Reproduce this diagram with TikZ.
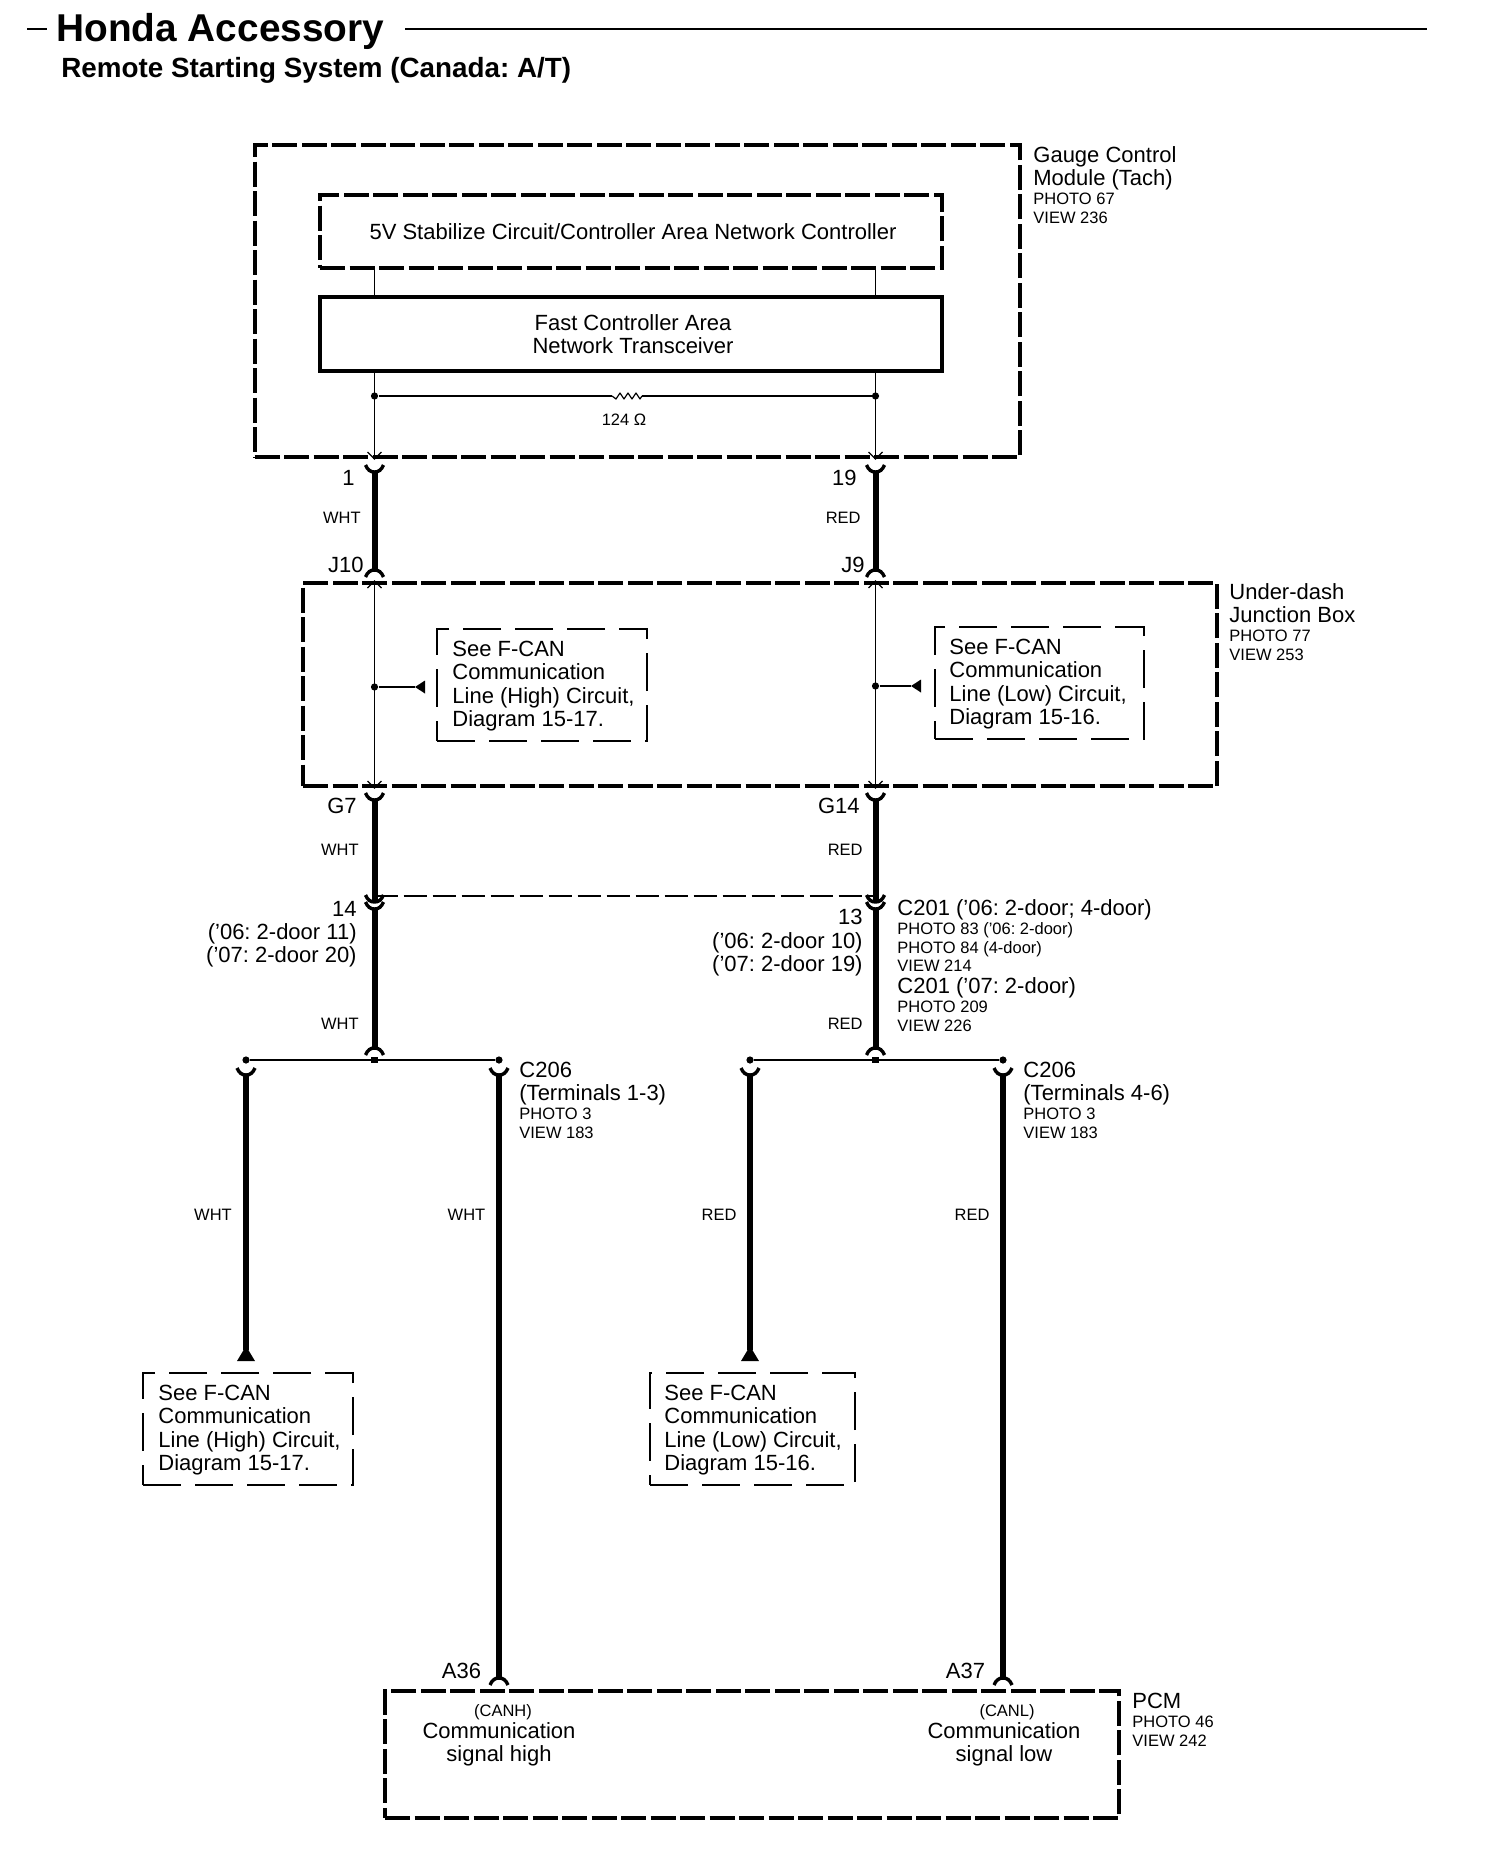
\documentclass[tikz,border=0pt]{standalone}
\usepackage{fontspec}
\setmainfont{Liberation Sans}
\usetikzlibrary{calc}
\newcommand\FBig{\fontsize{11}{11.75}\selectfont}
\newcommand\FSee{\fontsize{11}{11.65}\selectfont}
\newcommand\FSm{\fontsize{8.25}{9.5}\selectfont}
% wire-end marks
\newcommand\YFork[1]{\draw[markline] (#1) ++(-9,-7) .. controls +(2,5) and +(-4,0) .. ++(9,7) .. controls +(4,0) and +(-2,5) .. ++(9,-7);}
\newcommand\NCap[1]{\draw[markline] (#1) ++(-9,7) .. controls +(2,-5) and +(-4,0) .. ++(9,-7) .. controls +(4,0) and +(-2,-5) .. ++(9,7);}
\newcommand\VTip[1]{\draw[thinwire] (#1) ++(-7,-7) -- ++(7,7) -- ++(7,-7);}
\newcommand\ATip[1]{\draw[thinwire] (#1) ++(-7,7) -- ++(7,-7) -- ++(7,7);}
\tikzset{
  x=0.5pt,y=-0.5pt,
  bigbox/.style={draw,line width=2pt,dash pattern=on 12.5pt off 2.25pt,inner sep=0pt},
  midbox/.style={draw,line width=1.75pt,dash pattern=on 12.5pt off 2.25pt,inner sep=0pt},
  solidbox/.style={draw,line width=1.75pt,inner sep=0pt,align=center,font=\FBig},
  seebox/.style={draw,line width=.85pt,dash pattern=on 19pt off 7pt,inner sep=0pt},
  seetext/.style={anchor=west,align=left,inner sep=0pt,font=\FSee},
  lab/.style={anchor=west,inner sep=0pt,font=\FBig,text height=8pt,text depth=0pt},
  labr/.style={lab,anchor=east},
  labc/.style={lab,anchor=center},
  sm/.style={anchor=west,inner sep=0pt,font=\FSm,text height=6pt,text depth=0pt},
  smr/.style={sm,anchor=east},
  smc/.style={sm,anchor=center},
  thinwire/.style={line width=.55pt},
  wire/.style={line width=.6pt},
  thick wire/.style={line width=3pt},
  markline/.style={line width=1.7pt},
  dashwire/.style={line width=1pt,dash pattern=on 11.5pt off 3pt},
  dotn/.style={circle,fill,inner sep=0pt,minimum size=3.6pt},
  sqn/.style={rectangle,fill,inner sep=0pt,minimum size=3.4pt},
}
\begin{document}
\frenchspacing
\begin{tikzpicture}
\useasboundingbox (0,0) rectangle (1504,1852);
% title
\node[anchor=west,inner sep=0pt,font=\bfseries\fontsize{19.4}{22}\selectfont] (title) at (56,31) {Honda Accessory};
\node[anchor=west,inner sep=0pt,font=\bfseries\fontsize{13.9}{16}\selectfont] (sub) at (61,70) {Remote Starting System (Canada: A/T)};
\coordinate (tdl) at (27,29); \coordinate (tdr) at (47,29);
\coordinate (trl) at (405,29); \coordinate (trr) at (1427,29);
\draw[line width=1.2pt] (tdl) -- (tdr);
\draw[line width=1.2pt] (trl) -- (trr);
% wire columns
\coordinate (L) at (374.5,0); \coordinate (R) at (875.5,0);
% boxes
\node[bigbox,minimum width=382.5pt,minimum height=156pt] (gauge) at (637,301) {};
\node[midbox,minimum width=311pt,minimum height=36.5pt,font=\FBig] (stab) at (631,231.5) {\hspace*{2pt}5V Stabilize Circuit/Controller Area Network Controller};
\node[solidbox,minimum width=311pt,minimum height=37pt] (fast) at (631,334) {\hspace*{2pt}Fast Controller Area\\\hspace*{2pt}Network Transceiver};
\node[bigbox,minimum width=457pt,minimum height=101.5pt] (udash) at (760,684.5) {};
\node[seebox,minimum width=105pt,minimum height=56pt] (see1) at (542,685) {};
\node[seebox,minimum width=104.5pt,minimum height=56pt] (see2) at (1039.5,683) {};
\node[seebox,minimum width=105pt,minimum height=56pt] (see3) at (248,1429) {};
\node[seebox,minimum width=102.5pt,minimum height=56pt] (see4) at (752.5,1429) {};
\node[bigbox,minimum width=367pt,minimum height=63.25pt] (pcm) at (752,1754.5) {};
% box texts
\node[seetext] (see1t) at (452,686) {See F-CAN\\Communication\\Line (High) Circuit,\\Diagram 15-17.};
\node[seetext] (see2t) at (949,684) {See F-CAN\\Communication\\Line (Low) Circuit,\\Diagram 15-16.};
\node[seetext] (see3t) at (158,1430) {See F-CAN\\Communication\\Line (High) Circuit,\\Diagram 15-17.};
\node[seetext] (see4t) at (664,1430) {See F-CAN\\Communication\\Line (Low) Circuit,\\Diagram 15-16.};
% gauge internals
\draw[thinwire] (L |- stab.south) -- (L |- fast.north);
\draw[thinwire] (R |- stab.south) -- (R |- fast.north);
\node[dotn] (gL) at (374.5,396) {};
\node[dotn] (gR) at (875.5,396) {};
\coordinate (resL) at (612,396); \coordinate (resR) at (642,396);
\draw[wire] (gL) -- (resL);
\draw[wire,line join=round] (resL) -- ++(4,3) -- ++(4,-6) -- ++(4,6) -- ++(4,-6) -- ++(4,6) -- ++(4,-6) -- ++(4,6) -- (resR);
\draw[wire] (resR) -- (gR);
\node[smc] (ohm) at (624,419) {124 Ω};
\draw[thinwire] (L |- fast.south) -- (L |- gauge.south);
\draw[thinwire] (R |- fast.south) -- (R |- gauge.south);
\VTip{L |- gauge.south}
\VTip{R |- gauge.south}
% top harness section
\coordinate (t1) at (374.5,472); \coordinate (b1) at (374.5,570);
\coordinate (t2) at (875.5,472); \coordinate (b2) at (875.5,570);
\draw[thick wire] (t1) -- (b1); \YFork{t1} \NCap{b1}
\draw[thick wire] (t2) -- (b2); \YFork{t2} \NCap{b2}
% under-dash internals
\draw[thinwire] (L |- udash.north) -- (L |- udash.south);
\draw[thinwire] (R |- udash.north) -- (R |- udash.south);
\ATip{L |- udash.north} \VTip{L |- udash.south}
\ATip{R |- udash.north} \VTip{R |- udash.south}
\node[dotn] (uL) at (374.5,687) {};
\node[dotn] (uR) at (875.5,686) {};
\coordinate (uLt) at (415,687); \coordinate (uRt) at (911,686);
\draw[wire] (uL) -- (uLt);
\draw[wire] (uR) -- (uRt);
\fill (uLt) -- ++(10,-6.5) -- ++(0,13) -- cycle;
\fill (uRt) -- ++(10,-6.5) -- ++(0,13) -- cycle;
% middle harness section
\coordinate (t3) at (374.5,800); \coordinate (b3) at (374.5,902);
\coordinate (t4) at (875.5,800); \coordinate (b4) at (875.5,902);
\draw[thick wire] (t3) -- (b3); \YFork{t3} \YFork{b3}
\draw[thick wire] (t4) -- (b4); \YFork{t4} \YFork{b4}
\coordinate (t5) at (374.5,909); \coordinate (b5) at (374.5,1048);
\coordinate (t6) at (875.5,909); \coordinate (b6) at (875.5,1048);
\draw[thick wire] (t5) -- (b5); \YFork{t5} \NCap{b5}
\draw[thick wire] (t6) -- (b6); \YFork{t6} \NCap{b6}
\coordinate (dL) at (374.5,896); \coordinate (dR) at (875.5,896);
\draw[dashwire] (dL) -- (dR);
% branch row
\node[sqn] (jL) at (374.5,1060) {};
\node[sqn] (jR) at (875.5,1060) {};
\node[dotn] (eA) at (246,1060) {};
\node[dotn] (eB) at (499,1060) {};
\node[dotn] (eC) at (750,1060) {};
\node[dotn] (eD) at (1003,1060) {};
\draw[wire] (eA) -- (jL) -- (eB);
\draw[wire] (eC) -- (jR) -- (eD);
% branch wires
\coordinate (ta) at (246,1075); \coordinate (tb) at (499,1075);
\coordinate (tc) at (750,1075); \coordinate (td) at (1003,1075);
\coordinate (ea) at (246,1350); \coordinate (ec) at (750,1350);
\coordinate (eb) at (499,1678); \coordinate (ed) at (1003,1678);
\draw[thick wire] (ta) -- (ea); \YFork{ta}
\draw[thick wire] (tb) -- (eb); \YFork{tb} \NCap{eb}
\draw[thick wire] (tc) -- (ec); \YFork{tc}
\draw[thick wire] (td) -- (ed); \YFork{td} \NCap{ed}
\fill (246,1346) -- ++(9,15) -- ++(-18,0) -- cycle;
\fill (750,1346) -- ++(9,15) -- ++(-18,0) -- cycle;
% labels
\node[lab] (g1) at (1033,154) {Gauge Control};
\node[lab] (g2) at (1033,177) {Module (Tach)};
\node[sm] (g3) at (1033,198) {PHOTO 67};
\node[sm] (g4) at (1033,217) {VIEW 236};
\node[lab] (u1) at (1229,591) {Under-dash};
\node[lab] (u2) at (1229,614) {Junction Box};
\node[sm] (u3) at (1229,635) {PHOTO 77};
\node[sm] (u4) at (1229,654) {VIEW 253};
\node[labr] (n1) at (355,477) {1};
\node[labr] (n19) at (857,477) {19};
\node[smr] (w1) at (361,517) {WHT};
\node[smr] (r1) at (861,517) {RED};
\node[labr] (nj10) at (364,564) {J10};
\node[labr] (nj9) at (865,564) {J9};
\node[labr] (ng7) at (357,805) {G7};
\node[labr] (ng14) at (860,805) {G14};
\node[smr] (w2) at (359,849.5) {WHT};
\node[smr] (r2) at (863,849.5) {RED};
\node[labr] (n14) at (357,908) {14};
\node[labr] (n14a) at (357,931) {('06: 2-door 11)};
\node[labr] (n14b) at (357,954) {('07: 2-door 20)};
\node[labr] (n13) at (863,916) {13};
\node[labr] (n13a) at (863,940) {('06: 2-door 10)};
\node[labr] (n13b) at (863,963) {('07: 2-door 19)};
\node[lab] (c1) at (897,907) {C201 ('06: 2-door; 4-door)};
\node[sm] (c2) at (897,928) {PHOTO 83 ('06: 2-door)};
\node[sm] (c3) at (897,947) {PHOTO 84 (4-door)};
\node[sm] (c4) at (897,965) {VIEW 214};
\node[lab] (c5) at (897,985) {C201 ('07: 2-door)};
\node[sm] (c6) at (897,1006) {PHOTO 209};
\node[sm] (c7) at (897,1025) {VIEW 226};
\node[smr] (w3) at (359,1023) {WHT};
\node[smr] (r3) at (863,1023) {RED};
\node[lab] (d1) at (519,1069) {C206};
\node[lab] (d2) at (519,1092) {(Terminals 1-3)};
\node[sm] (d3) at (519,1113) {PHOTO 3};
\node[sm] (d4) at (519,1132) {VIEW 183};
\node[lab] (f1) at (1023,1069) {C206};
\node[lab] (f2) at (1023,1092) {(Terminals 4-6)};
\node[sm] (f3) at (1023,1113) {PHOTO 3};
\node[sm] (f4) at (1023,1132) {VIEW 183};
\node[smc] (wa) at (213,1214.5) {WHT};
\node[smc] (wb) at (466.5,1214.5) {WHT};
\node[smc] (rc) at (719,1214.5) {RED};
\node[smc] (rd) at (972,1214.5) {RED};
\node[labc] (a36) at (461.5,1670.5) {A36};
\node[labc] (a37) at (965.5,1670.5) {A37};
\node[smc] (canh) at (503,1710.5) {(CANH)};
\node[labc] (ch1) at (499,1730.5) {Communication};
\node[labc] (ch2) at (499,1753.5) {signal high};
\node[smc] (canl) at (1007,1710.5) {(CANL)};
\node[labc] (cl1) at (1004,1730.5) {Communication};
\node[labc] (cl2) at (1004,1753.5) {signal low};
\node[lab] (p1) at (1132,1700.5) {PCM};
\node[sm] (p2) at (1132,1721.5) {PHOTO 46};
\node[sm] (p3) at (1132,1740.5) {VIEW 242};
\end{tikzpicture}
\end{document}
